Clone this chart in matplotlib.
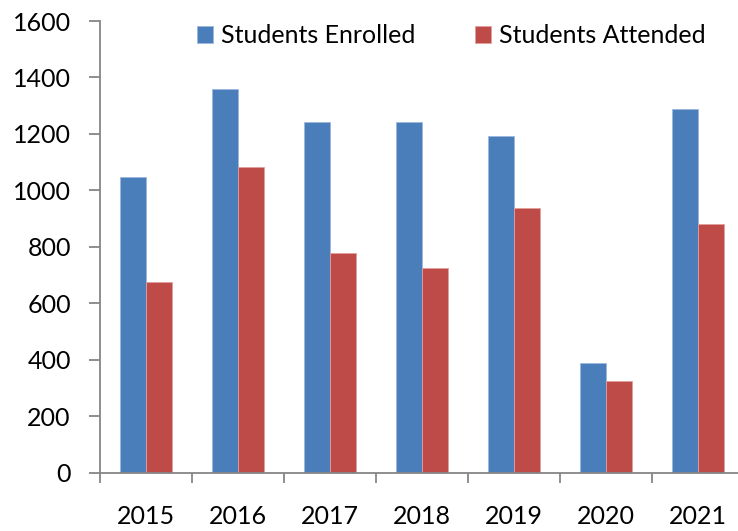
import matplotlib
matplotlib.use("Agg")
import matplotlib.pyplot as plt
import numpy as np

plt.rcParams['font.family'] = ['Lato', 'DejaVu Sans']

years = ['2015', '2016', '2017', '2018', '2019', '2020', '2021']
enrolled = [1048, 1359, 1243, 1241, 1194, 388, 1288]
attended = [677, 1084, 779, 724, 937, 326, 881]

fig = plt.figure(figsize=(7.38, 5.31), dpi=100)
ax = fig.add_axes([100/738, 58.3/531, 644/738, 451.7/531])

x = np.arange(len(years))
w = 0.283
ax.bar(x - w/2, enrolled, w, color='#4a7ebb', edgecolor='#9bb7de', linewidth=0.6,
       label='Students Enrolled')
ax.bar(x + w/2, attended, w, color='#be4b48', edgecolor='#e0a09e', linewidth=0.6,
       label='Students Attended')

ax.set_xlim(-0.5, len(years) - 0.5)
ax.set_ylim(0, 1600)
ax.set_yticks(range(0, 1601, 200))

ax.set_xticks(np.arange(-0.5, len(years), 1.0))
ax.set_xticklabels([])
ax.set_xticks(x, minor=True)
ax.set_xticklabels(years, minor=True)
ax.tick_params(axis='x', which='minor', length=0, pad=23, labelsize=18)
ax.tick_params(axis='x', which='major', length=7, width=1.3, color='#868686', direction='out')
ax.tick_params(axis='y', length=8, width=1.3, color='#868686', direction='out', pad=13, labelsize=18)

for s in ['top', 'right']:
    ax.spines[s].set_visible(False)
for s in ['left', 'bottom']:
    ax.spines[s].set_color('#868686')
    ax.spines[s].set_linewidth(1.3)

ax.legend(loc='upper center', bbox_to_anchor=(451/738, 517/531), bbox_transform=fig.transFigure,
          ncol=2, frameon=False, fontsize=18, handlelength=0.65, handleheight=0.65,
          handletextpad=0.3, columnspacing=2.4, borderaxespad=0)

fig.savefig('out.png', dpi=100)
